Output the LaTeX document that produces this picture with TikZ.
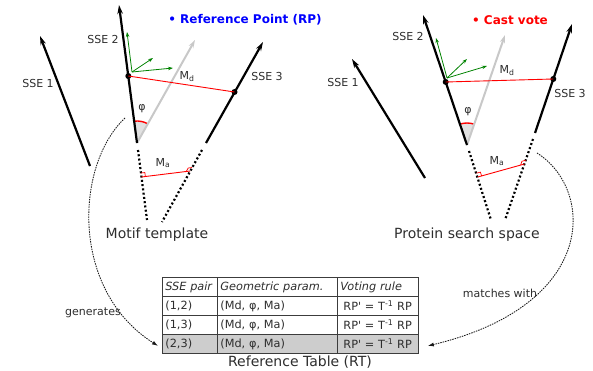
\documentclass[tikz,border=0pt]{standalone}
\usepackage{fontspec}
\setmainfont{DejaVu Sans}
\newfontfamily\plainfont{DejaVu Sans}
\usetikzlibrary{arrows.meta,calc,angles}
\definecolor{txt}{RGB}{45,45,45}
\definecolor{ggreen}{RGB}{0,130,0}
\definecolor{lgray}{RGB}{200,200,200}
\definecolor{rowgray}{RGB}{205,205,205}
\definecolor{tline}{RGB}{60,60,60}
\newcommand{\rpvote}{\hspace{3pt}RP{\plainfont'} = T\textsuperscript{-1} RP}
\begin{document}
\begin{tikzpicture}[x=1pt,y=-1pt,
  sse/.style={line width=2.2pt,-{Stealth[length=9pt,width=5.5pt]}},
  ssedot/.style={line width=2.2pt,dash pattern=on 2pt off 2.3pt},
  grayarr/.style={line width=2pt,lgray,-{Stealth[length=8pt,width=5pt]}},
  greenarr/.style={line width=0.8pt,ggreen,-{Stealth[length=5pt,width=3.5pt]}},
  redline/.style={red,line width=0.9pt},
  rmark/.style={red,line width=0.7pt},
  dotnode/.style={circle,fill=black,inner sep=0pt,minimum size=6pt},
  lbl/.style={text=txt,font=\fontsize{11}{13}\selectfont,inner sep=0pt},
  biglbl/.style={text=txt,font=\fontsize{14}{16}\selectfont,inner sep=0pt},
  flow/.style={line width=0.85pt,black!90,dash pattern=on 1.5pt off 1pt,-{Latex[length=6pt,width=4pt]}},
  cell/.style={draw=tline,line width=0.8pt,anchor=north west,minimum height=19pt,inner xsep=3pt,inner ysep=0pt,align=left,text=txt,font=\fontsize{11.3}{13}\selectfont}
]
\useasboundingbox (0,0) rectangle (593,371);

% ---------------- Left: motif template ----------------
\coordinate (L1t) at (90,166);  \coordinate (L1h) at (40,36);
\coordinate (L2t) at (137,143); \coordinate (L2h) at (119,5);
\coordinate (L3t) at (206,143); \coordinate (L3h) at (263,42);
\coordinate (L2d1) at (138,150); \coordinate (L2d2) at (147,220);
\coordinate (L3d1) at (202,150); \coordinate (L3d2) at (162,222);
\coordinate (LG) at (195,40);
\coordinate (Lgo) at (132,72);
\coordinate (La) at (141.4,177); \coordinate (Lb) at (190.2,171);

\pic[draw=red,line width=1.4pt,fill=lgray!55,angle radius=22pt] {angle=LG--L2t--L2h};
\draw[grayarr] (L2t) -- (LG);
\draw[sse] (L1t) -- (L1h);
\draw[sse] (L2t) -- (L2h);
\draw[sse] (L3t) -- (L3h);
\draw[ssedot] (L2d1) -- (L2d2);
\draw[ssedot] (L3d1) -- (L3d2);
\node[dotnode] (Ld2) at (128.3,76) {};
\node[dotnode] (Ld3) at (234.5,92) {};
\draw[redline] (Ld2.center) -- (Ld3.center);
\draw[greenarr] (Lgo) -- (127,32);
\draw[greenarr] (Lgo) -- (153,58);
\draw[greenarr] (Lgo) -- (173,68);
\draw[redline] (La) -- (Lb);
\coordinate (LA1) at ($(La)!4pt!(L2t)$);
\coordinate (LA3) at ($(La)!4pt!(Lb)$);
\draw[rmark] (LA1) -- ($(LA1)+(LA3)-(La)$) -- (LA3);
\coordinate (LB1) at ($(Lb)!4pt!(L3t)$);
\coordinate (LB3) at ($(Lb)!4pt!(La)$);
\draw[rmark] (LB1) -- ($(LB1)+(LB3)-(Lb)$) -- (LB3);

\node[lbl] (lsse1) at (38,83) {SSE 1};
\node[lbl] (lsse2) at (103,39) {SSE 2};
\node[lbl] (lsse3) at (267,76) {SSE 3};
\node[lbl] (lmd) at (187,77) {M\textsubscript{d}};
\node[lbl] (lphi) at (142,109) {φ};
\node[lbl] (lma) at (163,163) {M\textsubscript{a}};
\node[biglbl] (motif) at (157,235) {Motif template};

% ---------------- Right: protein search space ----------------
\coordinate (R1t) at (425,178); \coordinate (R1h) at (352,59);
\coordinate (R2t) at (467,145); \coordinate (R2h) at (423,15);
\coordinate (R3t) at (535,133); \coordinate (R3h) at (572,24);
\coordinate (R2d1) at (469,151); \coordinate (R2d2) at (491,220);
\coordinate (R3d1) at (533,139); \coordinate (R3d2) at (505,220);
\coordinate (RG) at (505,35);
\coordinate (Rgo) at (447,78);
\coordinate (Ra) at (477.8,177); \coordinate (Rb) at (524.5,164);

\pic[draw=red,line width=1.4pt,fill=lgray!55,angle radius=22pt] {angle=RG--R2t--R2h};
\draw[grayarr] (R2t) -- (RG);
\draw[sse] (R1t) -- (R1h);
\draw[sse] (R2t) -- (R2h);
\draw[sse] (R3t) -- (R3h);
\draw[ssedot] (R2d1) -- (R2d2);
\draw[ssedot] (R3d1) -- (R3d2);
\node[dotnode] (Rd2) at (445.7,82) {};
\node[dotnode] (Rd3) at (553.3,79) {};
\draw[redline] (Rd2.center) -- (Rd3.center);
\draw[greenarr] (Rgo) -- (436,38);
\draw[greenarr] (Rgo) -- (467,59);
\draw[greenarr] (Rgo) -- (487,66);
\draw[redline] (Ra) -- (Rb);
\coordinate (RA1) at ($(Ra)!4pt!(R2t)$);
\coordinate (RA3) at ($(Ra)!4pt!(Rb)$);
\draw[rmark] (RA1) -- ($(RA1)+(RA3)-(Ra)$) -- (RA3);
\coordinate (RB1) at ($(Rb)!4pt!(R3t)$);
\coordinate (RB3) at ($(Rb)!4pt!(Ra)$);
\draw[rmark] (RB1) -- ($(RB1)+(RB3)-(Rb)$) -- (RB3);

\node[lbl] (rsse1) at (343,82) {SSE 1};
\node[lbl] (rsse2) at (408,36) {SSE 2};
\node[lbl] (rsse3) at (570,93) {SSE 3};
\node[lbl] (rmd) at (507,71) {M\textsubscript{d}};
\node[lbl] (rphi) at (468,112) {φ};
\node[lbl] (rma) at (497,161) {M\textsubscript{a}};
\node[biglbl] (protein) at (467,235) {Protein search space};

% ---------------- Titles ----------------
\node[inner sep=0pt,text=blue,font=\bfseries\fontsize{12}{14}\selectfont] (rp) at (245,20) {• Reference Point (RP)};
\node[inner sep=0pt,text=red,font=\bfseries\fontsize{12}{14}\selectfont] (cv) at (510,20) {• Cast vote};

% ---------------- Table ----------------
\node[cell,text width=49pt] (c11) at (162,277) {\itshape SSE pair};
\node[cell,text width=114pt] (c12) at (217,277) {\itshape Geometric param.};
\node[cell,text width=75pt] (c13) at (337,277) {\itshape Voting rule};
\node[cell,text width=49pt] (c21) at (162,296) {(1,2)};
\node[cell,text width=114pt] (c22) at (217,296) {(Md, φ, Ma)};
\node[cell,text width=75pt] (c23) at (337,296) {\rpvote};
\node[cell,text width=49pt] (c31) at (162,315) {(1,3)};
\node[cell,text width=114pt] (c32) at (217,315) {(Md, φ, Ma)};
\node[cell,text width=75pt] (c33) at (337,315) {\rpvote};
\node[cell,fill=rowgray,text width=49pt] (c41) at (162,334) {(2,3)};
\node[cell,fill=rowgray,text width=114pt] (c42) at (217,334) {(Md, φ, Ma)};
\node[cell,fill=rowgray,text width=75pt] (c43) at (337,334) {\rpvote};
\node[biglbl] (rt) at (300,362) {Reference Table (RT)};

% ---------------- Flow arrows ----------------
\coordinate (gs) at (125,118);
\coordinate (ms) at (537,153);
\draw[flow] (gs) .. controls (75,165) and (70,290) .. ($(c41.west)+(-4,2)$);
\draw[flow] (ms) .. controls (595,190) and (598,305) .. ($(c43.east)+(9,2)$);
\node[lbl] (gen) at (93,313) {generates};
\node[lbl] (mw) at (500,293) {matches with};
\end{tikzpicture}
\end{document}
